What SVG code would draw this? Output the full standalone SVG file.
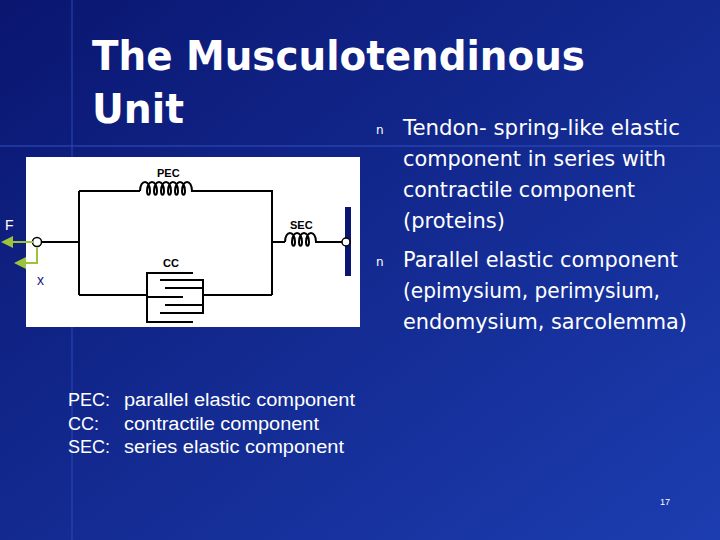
<svg xmlns="http://www.w3.org/2000/svg" width="720" height="540" viewBox="0 0 720 540">
<defs>
<linearGradient id="bg" x1="0" y1="0" x2="1" y2="1"><stop offset="0" stop-color="#0a1670"/><stop offset="1" stop-color="#1c3db0"/></linearGradient>
<marker id="ga" markerWidth="6" markerHeight="6" refX="5" refY="3" orient="auto"><path d="M0,0 L6,3 L0,6 Z" fill="#9bc43c"/></marker>
<style>
.w{fill:#fff;font-family:"DejaVu Sans",Verdana,sans-serif}
.l{fill:#fff;font-family:"Liberation Sans",Arial,sans-serif}
.b{font-family:"Liberation Sans",Arial,sans-serif;font-weight:bold;font-size:11px;fill:#000}
.k{stroke:#000;stroke-width:2;fill:none}
.g{stroke:#9bc43c;stroke-width:2;fill:none}
</style>
</defs>
<rect width="720" height="540" fill="url(#bg)"/>
<line x1="0" y1="146" x2="720" y2="146" stroke="#3050c0" stroke-width="1"/>
<line x1="72" y1="0" x2="72" y2="540" stroke="#2a48b8" stroke-width="1"/>
<text class="w" x="92" y="70" font-size="41" font-weight="bold" textLength="493" lengthAdjust="spacingAndGlyphs">The Musculotendinous</text>
<text class="w" x="92" y="123" font-size="41" font-weight="bold" textLength="92" lengthAdjust="spacingAndGlyphs">Unit</text>
<g id="bullets" class="w" font-size="21">
<text x="376" y="134" font-size="12">n</text>
<text x="403" y="135" textLength="277" lengthAdjust="spacingAndGlyphs">Tendon- spring-like elastic</text>
<text x="403" y="166" textLength="263" lengthAdjust="spacingAndGlyphs">component in series with</text>
<text x="403" y="197" textLength="232" lengthAdjust="spacingAndGlyphs">contractile component</text>
<text x="403" y="228" textLength="102" lengthAdjust="spacingAndGlyphs">(proteins)</text>
<text x="376" y="266" font-size="12">n</text>
<text x="403" y="267" textLength="275" lengthAdjust="spacingAndGlyphs">Parallel elastic component</text>
<text x="403" y="298" textLength="257" lengthAdjust="spacingAndGlyphs">(epimysium, perimysium,</text>
<text x="403" y="329" textLength="284" lengthAdjust="spacingAndGlyphs">endomysium, sarcolemma)</text>
</g>
<g id="figure">
<rect x="26" y="157" width="334" height="170" fill="#fff"/>
<text class="b" x="157" y="177">PEC</text>
<text class="b" x="290" y="229">SEC</text>
<text class="b" x="163" y="267">CC</text>
</g>
<g id="connectors">
<path class="k" d="M41,242 H79 M79,191 V295 M79,191 H140 M197,191 H272 V295 M272,242 H285 M315,242 H342 M79,295 H147 M203,295 H272"/>
<path class="k" stroke-width="1.6" d="M140,191 c0,-12 10,-12 10,0 c0,5 -3,5 -3,0 c0,-12 10,-12 10,0 c0,5 -3,5 -3,0 c0,-12 10,-12 10,0 c0,5 -3,5 -3,0 c0,-12 10,-12 10,0 c0,5 -3,5 -3,0 c0,-12 10,-12 10,0 c0,5 -3,5 -3,0 c0,-12 10,-12 10,0 c0,5 -3,5 -3,0 c0,-12 10,-12 10,0 h5"/>
<path class="k" stroke-width="1.6" d="M285,242 c0,-12 10,-12 10,0 c0,5 -3,5 -3,0 c0,-12 10,-12 10,0 c0,5 -3,5 -3,0 c0,-12 10,-12 10,0 c0,5 -3,5 -3,0 c0,-12 10,-12 10,0"/>
<path class="k" stroke-width="1.6" d="M193,273 H147 V322 H193 M147,297 H183 M160,280 H203 V313 H160 M165,288 H203 M165,305 H203"/>
<rect x="345" y="207" width="6" height="69" fill="#0a1670"/>
<circle cx="37" cy="242" r="4.5" fill="#fff" stroke="#000" stroke-width="1.5"/>
<circle cx="346" cy="242" r="4" fill="#fff" stroke="#000" stroke-width="1.5"/>
<line class="g" x1="33" y1="242" x2="3" y2="242" marker-end="url(#ga)"/>
<path class="g" d="M37,247 V263 H16" marker-end="url(#ga)"/>
</g>
<text class="l" x="5" y="230" font-size="14" fill="#f0f0c0">F</text>
<text x="37" y="285" font-size="14" fill="#1a2080" font-family="Liberation Sans,Arial,sans-serif">x</text>
<g id="legend" class="l" font-size="18">
<text x="68" y="406">PEC:</text><text x="124" y="406" textLength="231" lengthAdjust="spacingAndGlyphs">parallel elastic component</text>
<text x="68" y="430">CC:</text><text x="124" y="430" textLength="195" lengthAdjust="spacingAndGlyphs">contractile component</text>
<text x="68" y="453">SEC:</text><text x="124" y="453" textLength="220" lengthAdjust="spacingAndGlyphs">series elastic component</text>
</g>
<text class="l" x="660" y="505" font-size="9">17</text>
</svg>
